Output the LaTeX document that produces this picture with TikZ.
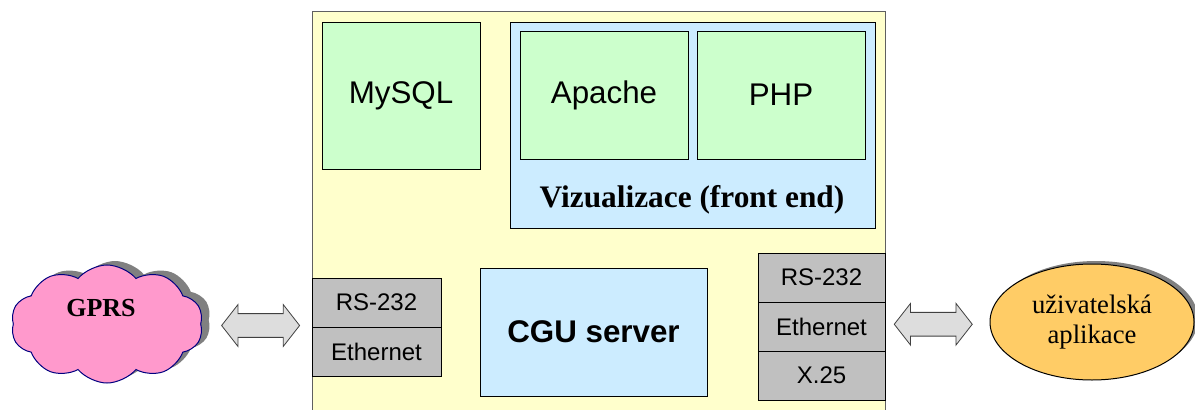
\documentclass[tikz,border=0pt]{standalone}
\usepackage{fontspec}
\setmainfont{Liberation Serif}
\setsansfont{Liberation Sans}
\usetikzlibrary{positioning,calc,shapes.symbols,shapes.arrows,shapes.geometric,shadows}

\definecolor{srvyellow}{HTML}{FFFFCC}
\definecolor{srvframe}{HTML}{606060}
\definecolor{swgreen}{HTML}{CCFFCC}
\definecolor{frontblue}{HTML}{CCECFF}
\definecolor{portgray}{HTML}{C0C0C0}
\definecolor{cloudpink}{HTML}{FF99CC}
\definecolor{cloudnavy}{HTML}{000080}
\definecolor{appgold}{HTML}{FFCC66}
\definecolor{arrowgray}{HTML}{DDDDDD}
\definecolor{arrowedge}{HTML}{404040}
\definecolor{shadowgray}{HTML}{808080}

\tikzset{every picture/.style={line width=0.75pt}}
\tikzset{
  softbox/.style={draw=black, fill=swgreen, line width=0.6pt, inner sep=0pt, outer sep=0pt,
    font=\sffamily\fontsize{23.5}{27}\selectfont},
  bluebox/.style={draw=black, fill=frontblue, line width=0.6pt, inner sep=0pt, outer sep=0pt},
  port/.style={draw=black, fill=portgray, line width=0.6pt, inner sep=0pt, outer sep=0pt,
    minimum width=96.75pt, minimum height=36.75pt, font=\sffamily\fontsize{18}{21}\selectfont},
  fatarrow/.style={double arrow, draw=arrowedge, fill=arrowgray, line width=0.6pt,
    inner xsep=0pt, inner ysep=8.6pt, minimum height=58.5pt, minimum width=30.75pt,
    double arrow head extend=6.75pt, double arrow tip angle=104},
}

\begin{document}
\begin{tikzpicture}[x=0.75pt,y=0.75pt,yscale=-1,xscale=1]
	\useasboundingbox (0,0) rectangle (1195,410);

	%Shape: Rectangle [server]
	\draw [draw=srvframe, fill=srvyellow] (312,12) rectangle (885,430);

	%Shape: Rectangle [MySQL]
	\node [softbox, minimum width=118.5pt, minimum height=110.25pt] (mysql) at (401,95.5) {MySQL};
	%Shape: Rectangle [front end]
	\node [bluebox, minimum width=273.75pt, minimum height=154.5pt] (front) at (692.5,125) {};
	\node [softbox, minimum width=126pt, minimum height=96pt] (apache) at (604,95) {Apache};
	\node [softbox, minimum width=126pt, minimum height=96pt] (php) at (781,95) {PHP};
	% Text Node
	\node [font=\bfseries\fontsize{23.5}{27}\selectfont] (frontlbl) at (692,200) {Vizualizace (front end)};

	%Shape: Rectangle [CGU]
	\node [bluebox, minimum width=170.25pt, minimum height=96pt,
	  font=\sffamily\bfseries\fontsize{23.5}{27}\selectfont] (cgu) at (593.5,332) {CGU server};

	%Shape: Rectangle [ports, left]
	\node [port] (lrs) at (376.5,302.5) {RS-232};
	\node [port, below=0pt of lrs] (leth) {Ethernet};
	%Shape: Rectangle [ports, right]
	\node [port, minimum width=95.25pt] (rrs) at (821.5,277.5) {RS-232};
	\node [port, minimum width=95.25pt, below=0pt of rrs] (reth) {Ethernet};
	\node [port, minimum width=95.25pt, below=0pt of reth] (rx) {X.25};

	%Shape: Cloud
	\node [cloud, cloud puffs=10, cloud puff arc=100, aspect=1.6, draw=cloudnavy, fill=cloudpink, inner sep=0pt,
	  minimum width=144pt, minimum height=88.5pt,
	  drop shadow={shadow xshift=6pt, shadow yshift=3pt, fill=shadowgray, opacity=1}] (gprs) at (107,324) {};
	% Text Node
	\node [font=\bfseries\fontsize{19.5}{22}\selectfont] (gprslbl) at (101,308) {GPRS};

	%Shape: Ellipse
	\node [ellipse, draw=black, fill=appgold, inner sep=0pt, minimum width=153pt, minimum height=87pt,
	  align=center, font=\fontsize{20}{23}\selectfont,
	  drop shadow={shadow xshift=3pt, shadow yshift=2.25pt, fill=shadowgray, opacity=1}] (app) at (1092,322) {uživatelská\\aplikace};

	%Shape: Double Arrows
	\node [fatarrow] (larr) at ($(gprs.east)!0.5!(leth.north west)+(4,0)$) {};
	\node [fatarrow] (rarr) at ($(reth.east)!0.5!(app.west)+(-4,0)$) {};

\end{tikzpicture}
\end{document}
